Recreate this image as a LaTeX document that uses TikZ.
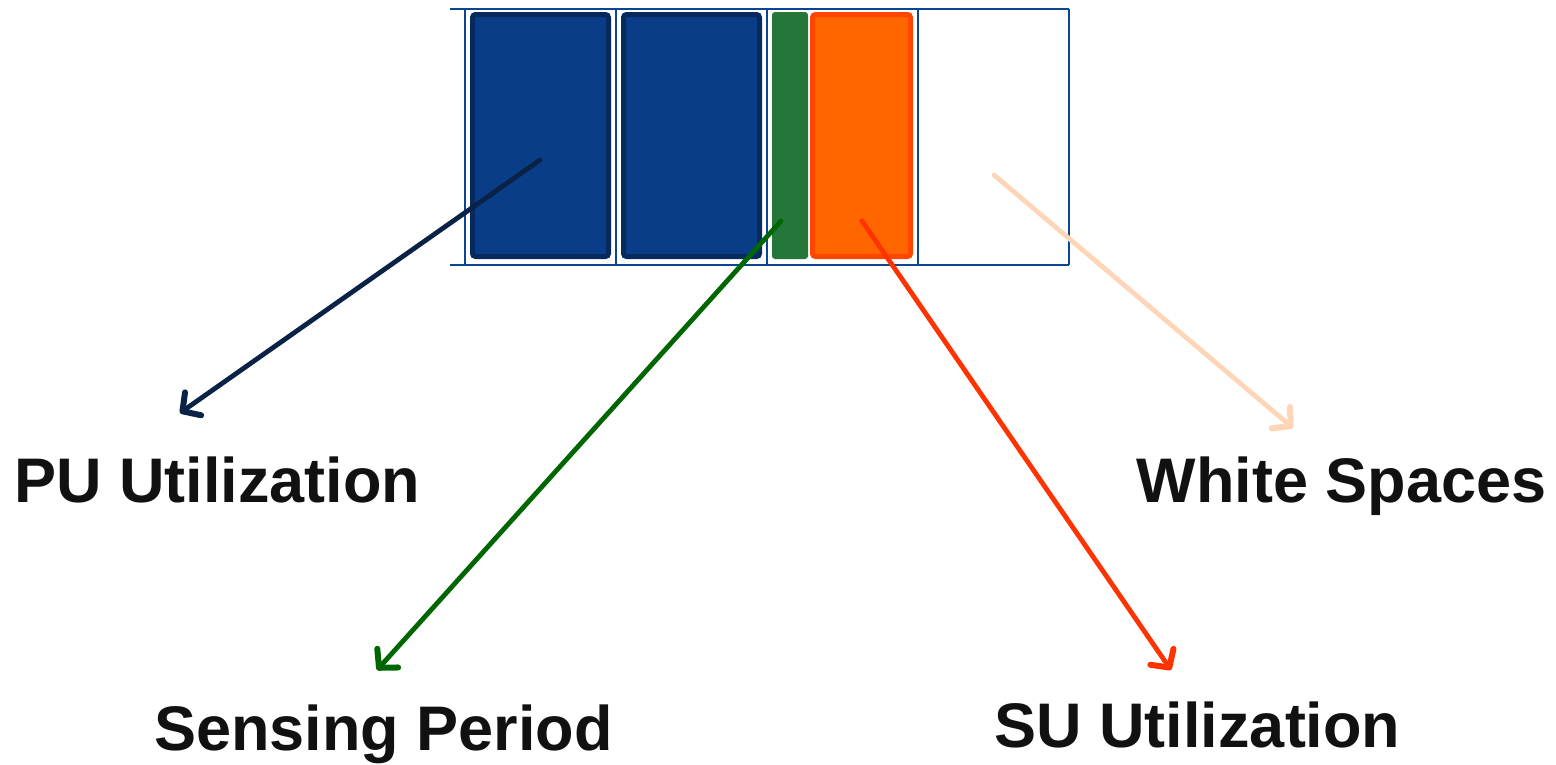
\documentclass[tikz,border=0pt]{standalone}
\usepackage{fontspec}
\setmainfont{Liberation Sans}
\usetikzlibrary{arrows.meta}
\definecolor{frameblue}{HTML}{0B4594}
\definecolor{pufill}{HTML}{0A3D87}
\definecolor{puedge}{HTML}{072A5E}
\definecolor{sensefill}{HTML}{247639}
\definecolor{sufill}{HTML}{FF6600}
\definecolor{suedge}{HTML}{FF4500}
\definecolor{puarrow}{HTML}{0A2245}
\definecolor{sensearrow}{HTML}{006600}
\definecolor{suarrow}{HTML}{FF3300}
\definecolor{wsarrow}{HTML}{FFD5B8}
\definecolor{textblack}{HTML}{111111}
\tikzset{
  frameline/.style={draw=frameblue, line width=2.4pt},
  slotbox/.style={rectangle, rounded corners=3pt, inner sep=0pt, outer sep=0pt},
  pubox/.style={slotbox, draw=puedge, fill=pufill, line width=5pt},
  sensebox/.style={slotbox, fill=sensefill},
  subox/.style={slotbox, draw=suedge, fill=sufill, line width=5pt},
  pointer/.style={line width=4.8pt, line cap=round, -{Straight Barb[length=13pt,width=28pt,line width=6pt,round]}},
  lbl/.style={anchor=base, inner sep=0pt, font=\fontsize{63}{70}\selectfont\bfseries, text=textblack}
}
\begin{document}
\begin{tikzpicture}[x=1pt,y=-1pt]
\useasboundingbox (0,0) rectangle (1556,764);
% frame
\draw[frameline] (450,9) -- (1069,9);
\draw[frameline] (450,265) -- (1069,265);
\foreach \xx in {465,616,767,918,1069}{\draw[frameline] (\xx,9) -- (\xx,265);}
% slots
\node[pubox, minimum width=136pt, minimum height=242pt] (pu1) at (540.5,135.5) {};
\node[pubox, minimum width=136pt, minimum height=242pt] (pu2) at (691.5,135.5) {};
\node[sensebox, minimum width=36pt, minimum height=247pt] (sense) at (790,135.5) {};
\node[subox, minimum width=98pt, minimum height=242pt] (su) at (861.5,135.5) {};
\node[slotbox, minimum width=146pt, minimum height=250pt] (ws) at (993.5,137) {};
% labels
\node[lbl] (lpu) at (217.5,502) {PU Utilization};
\node[lbl] (lws) at (1341.5,502) {White Spaces};
\node[lbl] (lsense) at (383.5,750) {Sensing Period};
\node[lbl] (lsu) at (1197.5,747) {SU Utilization};
% arrow points
\coordinate (spu) at (540,160);
\coordinate (ssense) at (781,221);
\coordinate (ssu) at (862,221);
\coordinate (sws) at (994,175);
\coordinate (tpu) at (180,413);
\coordinate (tsense) at (377,670);
\coordinate (tsu) at (1171,670);
\coordinate (tws) at (1293,428);
\draw[pointer, puarrow] (spu) -- (tpu);
\draw[pointer, sensearrow] (ssense) -- (tsense);
\draw[pointer, suarrow] (ssu) -- (tsu);
\draw[pointer, wsarrow] (sws) -- (tws);
\end{tikzpicture}
\end{document}
